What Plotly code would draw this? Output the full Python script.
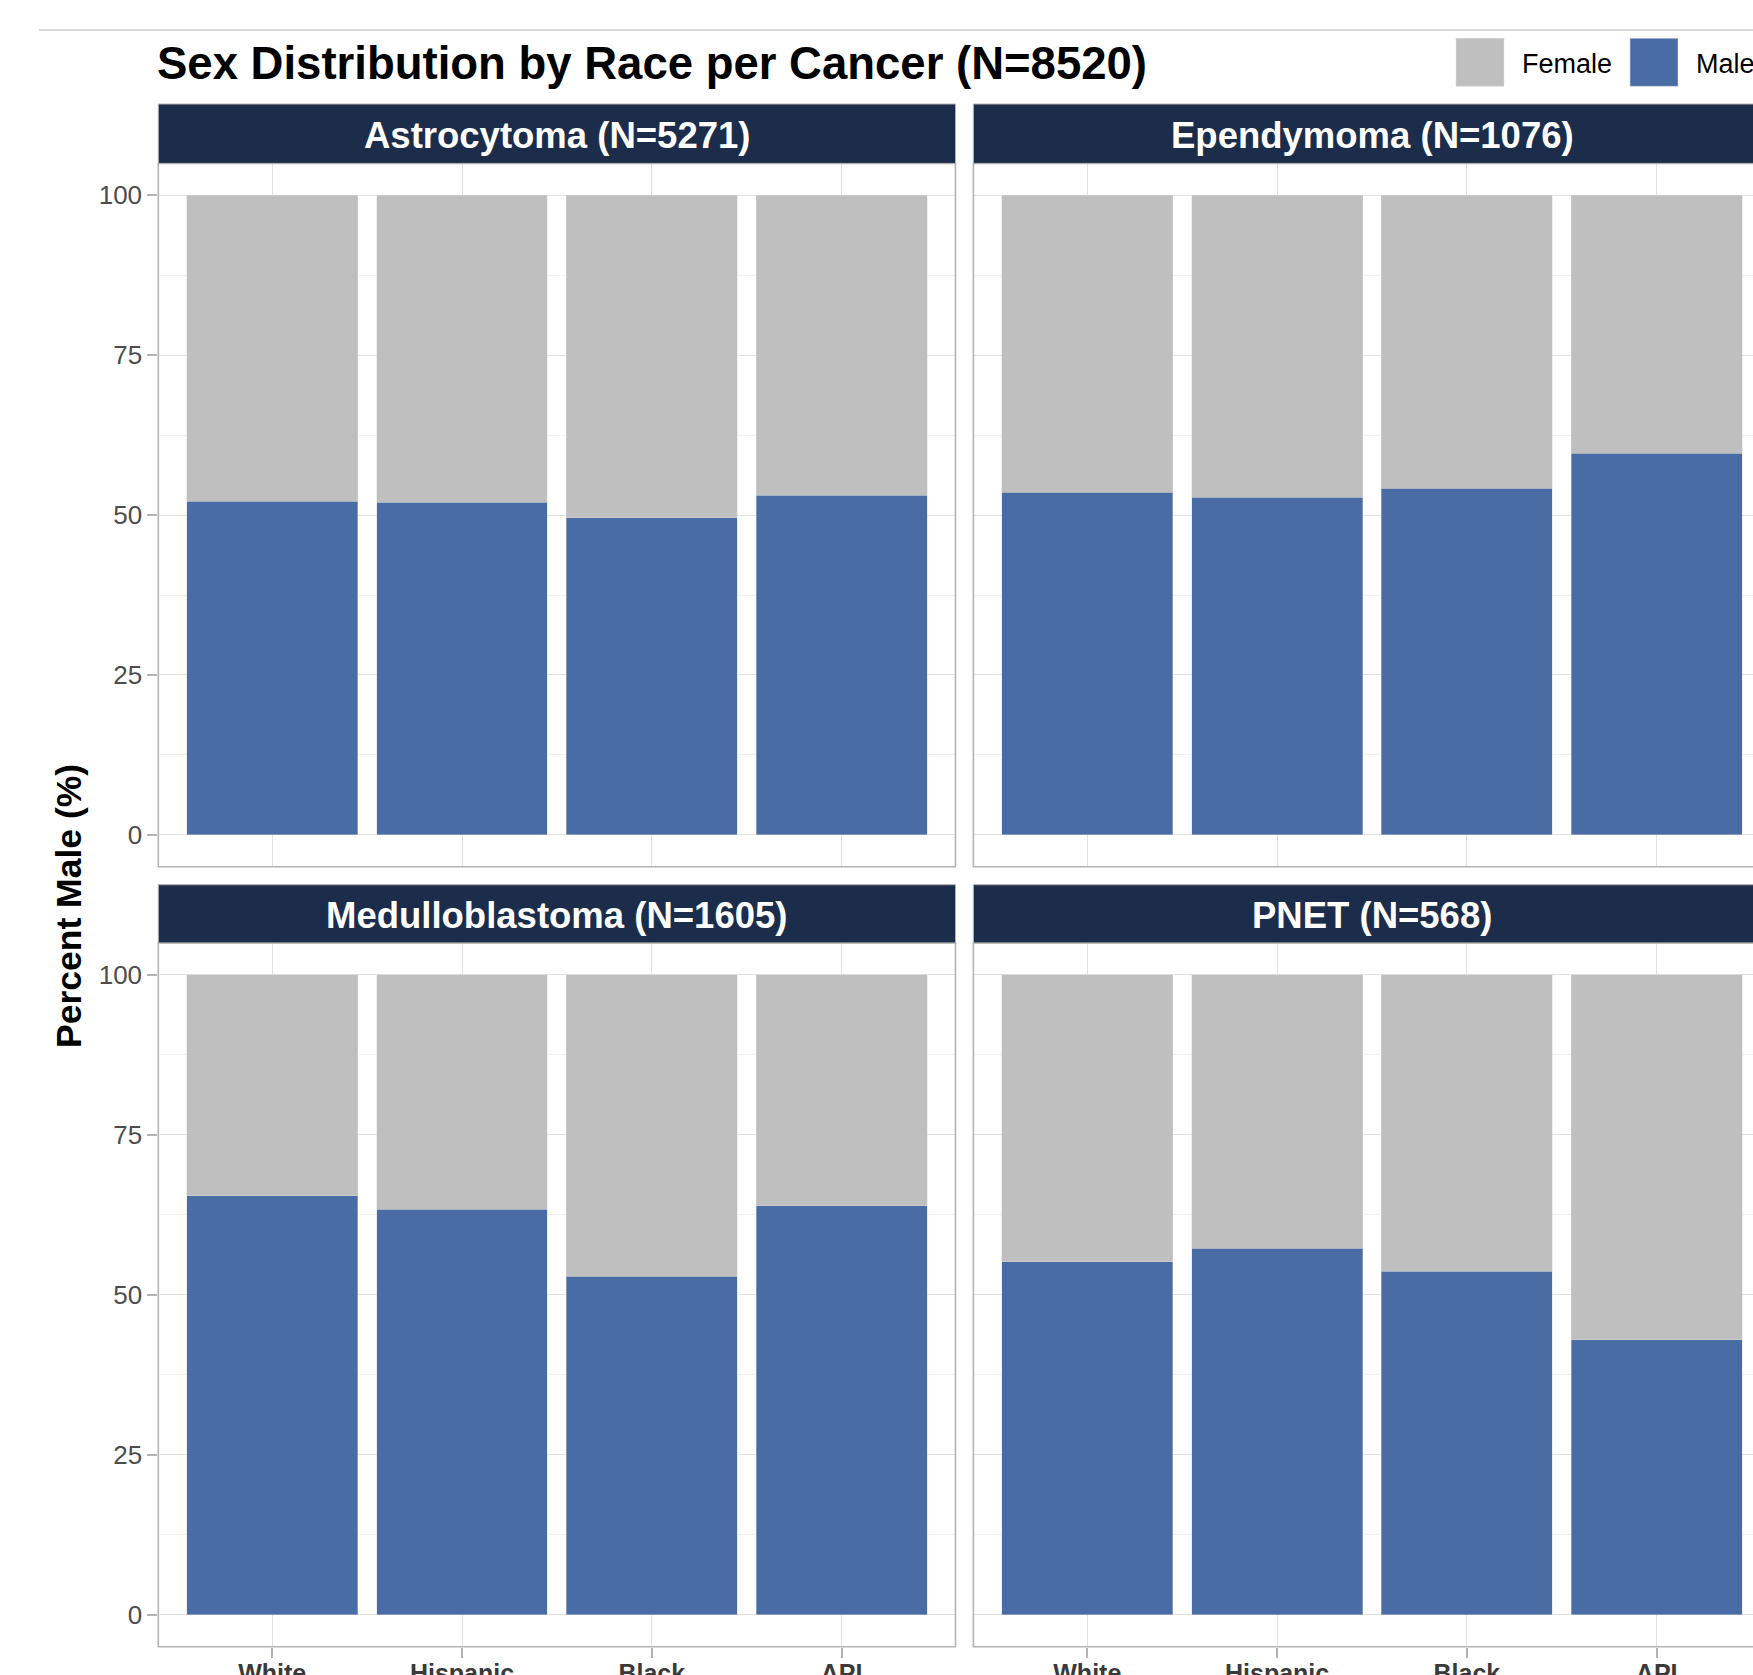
import plotly.graph_objects as go

# ---- data -------------------------------------------------------------
races = ["White", "Hispanic", "Black", "API"]
cancers = ["Astrocytoma", "Ependymoma", "Medulloblastoma", "PNET"]
cancer_n = [5271, 1076, 1605, 568]
total_n = 8520

# percent male per race, one list per cancer type
male_astrocytoma = [52.2, 52.0, 49.6, 53.1]
male_ependymoma = [53.6, 52.8, 54.2, 59.7]
male_medulloblastoma = [65.5, 63.4, 52.9, 63.9]
male_pnet = [55.2, 57.3, 53.7, 43.0]

y_ticks = [0, 25, 50, 75, 100]
y_minor = [12.5, 37.5, 62.5, 87.5]
legend_labels = ["Female", "Male"]

male_by_cancer = [male_astrocytoma, male_ependymoma, male_medulloblastoma, male_pnet]

# ---- styling ----------------------------------------------------------
W, H = 1753, 1675
FONT = "Liberation Sans, Arial, Helvetica, sans-serif"
MALE = "#4a6ca4"
FEMALE = "#bfbfbf"
STRIP = "#1b2d4b"
BORDER = "#b3b3b3"
GRID = "#e2e2e2"
GRID_MINOR = "#f1f1f1"


def px(x):
    return x / W


def py(y):
    return 1 - y / H


# panel geometry (pixels)
col_x = [(158.3, 955.5), (973.4, None)]
row_y = [(163.4, 866.8), (942.9, 1646.7)]
strip_y = [(104.0, 163.4), (884.7, 942.9)]
unit_px = (955.5 - 158.3) / 4.2

fig = go.Figure()
layout = dict(
    width=W, height=H, autosize=False,
    margin=dict(l=0, r=0, t=0, b=0),
    paper_bgcolor="white", plot_bgcolor="white",
    barmode="stack", showlegend=False,
    font=dict(family=FONT),
)
shapes = []
annotations = []

for i, (name, n, male) in enumerate(zip(cancers, cancer_n, male_by_cancer)):
    r, c = divmod(i, 2)
    k = i + 1
    xa = "x" if k == 1 else f"x{k}"
    ya = "y" if k == 1 else f"y{k}"
    female = [round(100 - m, 1) for m in male]

    fig.add_trace(go.Bar(
        x=races, y=male, name=legend_labels[1], xaxis=xa, yaxis=ya, width=0.9,
        marker=dict(color=MALE, line=dict(color="rgba(215,215,215,0.7)", width=0.6)),
    ))
    fig.add_trace(go.Bar(
        x=races, y=female, name=legend_labels[0], xaxis=xa, yaxis=ya, width=0.9,
        marker=dict(color=FEMALE, line=dict(color="rgba(215,215,215,0.7)", width=0.6)),
    ))

    x0, x1 = col_x[c]
    if x1 is None:
        x_dom = [px(x0), 1.0]
        x_range = [-0.6, -0.6 + (W - x0) / unit_px]
    else:
        x_dom = [px(x0), px(x1)]
        x_range = [-0.6, 3.6]
    y0, y1 = row_y[r]
    bottom = r == 1
    left = c == 0

    layout["xaxis" if k == 1 else f"xaxis{k}"] = dict(
        domain=x_dom, anchor=ya, type="category", categoryorder="array",
        categoryarray=races, range=x_range, automargin=False,
        showgrid=True, gridcolor=GRID, gridwidth=1.2, zeroline=False,
        showline=False, ticks="outside" if bottom else "", ticklen=10,
        tickwidth=1.5, tickcolor=BORDER, showticklabels=bottom,
        ticklabelstandoff=-6,
        tickfont=dict(size=25, color="#3a3a3a", weight="bold", family=FONT),
    )
    layout["yaxis" if k == 1 else f"yaxis{k}"] = dict(
        domain=[py(y1), py(y0)], anchor=xa, range=[-5, 105], automargin=False,
        tickvals=y_ticks, showgrid=True, gridcolor=GRID, gridwidth=1.2,
        minor=dict(tickvals=y_minor, showgrid=True, gridcolor=GRID_MINOR,
                   gridwidth=0.8, ticks=""),
        zeroline=False, showline=False,
        ticks="outside" if left else "", ticklen=10, tickwidth=1.5,
        tickcolor=BORDER, showticklabels=left,
        tickfont=dict(size=26, color="#4d4d4d", family=FONT),
    )

    right_edge = px(x1) if x1 is not None else 1.03
    # panel border
    shapes.append(dict(type="rect", xref="paper", yref="paper",
                       x0=px(x0), x1=right_edge, y0=py(y1), y1=py(y0),
                       line=dict(color=BORDER, width=1.6), layer="above"))
    # facet strip
    s0, s1 = strip_y[r]
    shapes.append(dict(type="rect", xref="paper", yref="paper",
                       x0=px(x0), x1=right_edge, y0=py(s1), y1=py(s0),
                       fillcolor=STRIP, line=dict(color=BORDER, width=1)))
    annotations.append(dict(
        text=f"{name} (N={n})", xref="paper", yref="paper",
        x=px(x0 + 2.1 * unit_px), y=py((s0 + s1) / 2 + 1.5),
        xanchor="center", yanchor="middle", showarrow=False,
        font=dict(size=36.5, color="white", weight="bold", family=FONT),
    ))

# thin rule above the title
shapes.append(dict(type="line", xref="paper", yref="paper",
                   x0=px(39), x1=1.01, y0=py(30), y1=py(30),
                   line=dict(color="#cccccc", width=1.5)))

# title
annotations.append(dict(
    text=f"Sex Distribution by Race per Cancer (N={total_n})",
    xref="paper", yref="paper", x=px(155), y=py(64),
    xanchor="left", yanchor="middle", showarrow=False,
    font=dict(size=45.5, color="black", weight="bold", family=FONT),
))

# y axis title
annotations.append(dict(
    text="Percent Male (%)", xref="paper", yref="paper",
    x=px(69), y=py(906), xanchor="center", yanchor="middle",
    textangle=-90, showarrow=False,
    font=dict(size=35.5, color="black", weight="bold", family=FONT),
))

# legend keys
legend_keys = [(1456, FEMALE), (1630, MALE)]
for (kx, kcol), label in zip(legend_keys, legend_labels):
    shapes.append(dict(type="rect", xref="paper", yref="paper",
                       x0=px(kx), x1=px(kx + 48), y0=py(86.3), y1=py(38.3),
                       fillcolor=kcol, line=dict(color="rgba(215,215,215,0.7)", width=0.8)))
    annotations.append(dict(
        text=label, xref="paper", yref="paper", x=px(kx + 64), y=py(64),
        xanchor="left", yanchor="middle", showarrow=False,
        font=dict(size=27, color="black", family=FONT),
    ))

layout["shapes"] = shapes
layout["annotations"] = annotations
fig.update_layout(**layout)

fig.write_html("out.html")
